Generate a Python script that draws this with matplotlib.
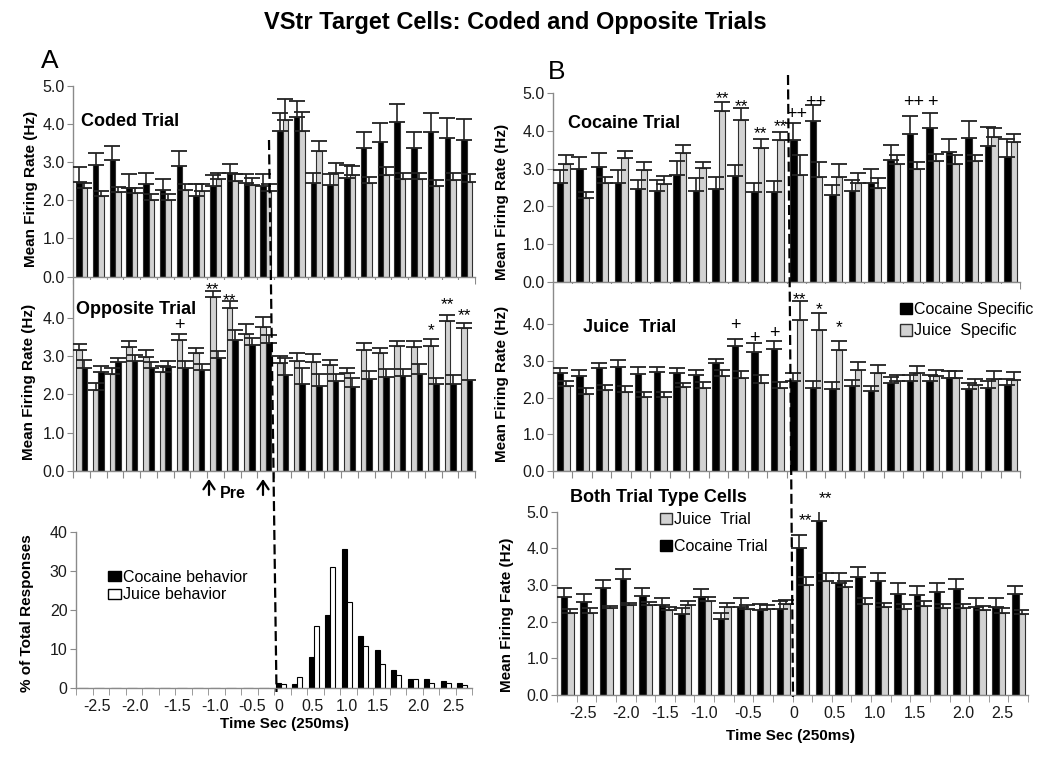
import matplotlib
matplotlib.use('Agg')
import matplotlib.pyplot as plt
from matplotlib.lines import Line2D
from matplotlib.patches import Patch, FancyArrowPatch
import numpy as np

plt.rcParams['font.family'] = ['Liberation Sans', 'DejaVu Sans']

W, H = 1050, 762

# 250 ms bins from -3 s to +3 s (24 bins)
edges = np.arange(-3.0, 3.01, 0.25)
starts = edges[:-1]

# ---- A, Coded Trial ----
coded_coc = [2.49, 2.92, 3.05, 2.31, 2.42, 2.27, 2.91, 2.11, 2.38, 2.71, 2.46, 2.38,
             3.82, 4.17, 2.46, 2.39, 2.59, 3.36, 3.53, 4.06, 3.36, 3.79, 3.62, 3.58]
coded_coc_sem = [0.37, 0.33, 0.37, 0.37, 0.30, 0.29, 0.38, 0.31, 0.28, 0.24, 0.22, 0.30,
                 0.46, 0.44, 0.26, 0.30, 0.33, 0.42, 0.50, 0.45, 0.42, 0.49, 0.54, 0.55]
coded_jui = [2.31, 2.11, 2.21, 2.18, 2.02, 2.02, 2.27, 2.24, 2.56, 2.50, 2.40, 2.24,
             4.10, 3.81, 3.29, 2.72, 2.66, 2.46, 2.66, 2.57, 2.57, 2.38, 2.53, 2.49]
coded_jui_sem = [0.15, 0.13, 0.13, 0.13, 0.14, 0.14, 0.15, 0.18, 0.16, 0.20, 0.19, 0.18,
                 0.55, 0.51, 0.27, 0.25, 0.25, 0.16, 0.20, 0.15, 0.15, 0.15, 0.19, 0.21]

# ---- A, Opposite Trial (juice bars drawn first) ----
opp_jui = [3.17, 2.12, 2.55, 3.25, 2.99, 2.58, 3.43, 3.08, 4.55, 4.26, 3.60, 3.78,
           2.82, 2.88, 2.84, 2.77, 2.57, 3.17, 3.08, 3.28, 3.24, 3.28, 3.93, 3.75]
opp_jui_sem = [0.15, 0.17, 0.14, 0.15, 0.17, 0.17, 0.15, 0.13, 0.17, 0.20, 0.26, 0.26,
               0.19, 0.22, 0.22, 0.13, 0.12, 0.17, 0.15, 0.12, 0.16, 0.17, 0.16, 0.13]
opp_coc = [2.69, 2.60, 2.86, 2.89, 2.69, 2.71, 2.69, 2.64, 2.95, 3.43, 3.30, 3.36,
           2.50, 2.27, 2.22, 2.35, 2.20, 2.41, 2.45, 2.48, 2.55, 2.27, 2.27, 2.37]
opp_coc_sem = [0.21, 0.16, 0.11, 0.14, 0.17, 0.16, 0.19, 0.16, 0.20, 0.26, 0.17, 0.20,
               0.45, 0.42, 0.32, 0.19, 0.23, 0.21, 0.21, 0.18, 0.25, 0.15, 0.24, np.nan]

# ---- A, % of total responses ----
hist_coc = [0] * 12 + [1.45, 1.1, 7.9, 18.7, 35.5, 13.4, 9.8, 4.7, 2.3, 2.3, 1.9, 1.3]
hist_jui = [0] * 12 + [1.1, 2.8, 16.0, 30.9, 22.1, 10.8, 6.1, 3.4, 2.3, 1.3, 1.3, 0.8]

# ---- B, Cocaine Trial ----
bc_coc = [2.61, 2.99, 3.05, 2.61, 2.45, 2.41, 2.83, 2.41, 2.45, 2.80, 2.37, 2.37,
          3.76, 4.26, 2.30, 2.41, 2.61, 3.24, 3.93, 4.09, 3.43, 3.82, 3.61, 3.32]
bc_coc_sem = [0.35, 0.31, 0.37, 0.35, 0.26, 0.30, 0.37, 0.33, 0.32, 0.29, 0.24, 0.30,
              0.46, 0.43, 0.26, 0.30, 0.37, 0.40, 0.47, 0.38, 0.35, 0.44, 0.50, 0.48]
bc_jui = [3.12, 2.21, 2.61, 3.27, 2.96, 2.59, 3.42, 3.01, 4.54, 4.29, 3.54, 3.76,
          2.83, 2.77, 2.79, 2.63, 2.48, 3.12, 2.98, 3.20, 3.12, 3.20, 3.85, 3.71]
bc_jui_sem = [0.24, 0.18, 0.16, 0.20, 0.22, 0.21, 0.21, 0.17, 0.22, 0.31, 0.24, 0.22,
              0.53, 0.41, 0.33, 0.26, 0.26, 0.24, 0.20, 0.19, 0.24, 0.16, 0.23, 0.22]

# ---- B, Juice Trial ----
bj_coc = [2.67, 2.58, 2.82, 2.85, 2.64, 2.70, 2.67, 2.61, 2.95, 3.41, 3.26, 3.32,
          2.47, 2.27, 2.23, 2.32, 2.18, 2.41, 2.45, 2.47, 2.53, 2.23, 2.26, 2.36]
bj_coc_sem = [0.15, 0.18, 0.14, 0.17, 0.20, 0.14, 0.14, 0.15, 0.11, 0.20, 0.23, 0.24,
              0.20, 0.20, 0.20, 0.17, 0.14, 0.15, 0.16, 0.16, 0.20, 0.17, 0.19, 0.16]
bj_jui = [2.31, 2.11, 2.20, 2.17, 2.02, 2.02, 2.29, 2.26, 2.58, 2.55, 2.40, 2.26,
          4.13, 3.84, 3.29, 2.75, 2.68, 2.47, 2.67, 2.59, 2.55, 2.36, 2.52, 2.49]
bj_jui_sem = [0.14, 0.15, 0.16, 0.15, 0.13, 0.13, 0.11, 0.17, 0.18, 0.18, 0.21, 0.17,
              0.52, 0.48, 0.26, 0.22, 0.22, 0.16, 0.19, 0.17, 0.18, 0.16, 0.21, 0.21]

# ---- B, Both Trial Type Cells ----
bb_coc = [2.66, 2.55, 2.91, 3.16, 2.70, 2.45, 2.21, 2.68, 2.07, 2.41, 2.32, 2.35,
          4.02, 4.75, 3.06, 3.21, 3.12, 2.75, 2.74, 2.82, 2.90, 2.41, 2.41, 2.75]
bb_coc_sem = [0.25, 0.20, 0.24, 0.28, 0.23, 0.20, 0.17, 0.21, 0.18, 0.23, 0.16, 0.21,
              0.34, 0.40, 0.26, 0.29, 0.22, 0.31, 0.23, 0.24, 0.26, 0.23, 0.23, 0.22]
bb_jui = [2.25, 2.25, 2.36, 2.45, 2.45, 2.32, 2.45, 2.57, 2.41, 2.34, 2.34, 2.47,
          3.00, 3.12, 2.94, 2.48, 2.39, 2.35, 2.44, 2.36, 2.36, 2.32, 2.25, 2.21]
bb_jui_sem = [0.09, 0.11, 0.07, 0.07, 0.09, 0.09, 0.11, 0.09, 0.09, 0.11, 0.11, 0.12,
              0.23, 0.20, 0.17, 0.16, 0.13, 0.13, 0.12, 0.12, 0.12, 0.12, 0.11, 0.11]

tick_text = ['-2.5', '-2.0', '-1.5', '-1.0', '-0.5', '0', '0.5', '1.0', '1.5', '2.0', '2.5']

BLACK = '#000000'
GRAY = '#d2d2d2'
AXC = '#8a8a8a'
TICKFS = 11.5


def rect(l, t, r, b):
    return [l / W, 1 - b / H, (r - l) / W, (b - t) / H]


def fp(x, y):
    return x / W, 1 - y / H


def style(ax, ymax, yticks, fmt):
    for s in ['top', 'right']:
        ax.spines[s].set_visible(False)
    for s in ['left', 'bottom']:
        ax.spines[s].set_color(AXC)
        ax.spines[s].set_linewidth(1.0)
    ax.set_xlim(-3, 3)
    ax.set_ylim(0, ymax)
    ax.set_xticks(edges)
    ax.set_xticklabels([])
    ax.tick_params(axis='x', direction='out', length=5, color=AXC)
    ax.set_yticks(yticks)
    ax.set_yticklabels([fmt.format(v) for v in yticks])
    ax.tick_params(axis='y', direction='out', length=4, color=AXC,
                   labelsize=TICKFS, pad=2, labelcolor='#1a1a1a')


def pairs(ax, a, a_sem, b, b_sem, ca, cb):
    bw = 0.25
    w = 0.33 * bw
    xa = starts + 0.355 * bw
    xb = starts + 0.685 * bw
    ax.bar(xa, a, w, color=ca, edgecolor='#303030', linewidth=0.8, zorder=2)
    ax.bar(xb, b, w, color=cb, edgecolor='#303030', linewidth=0.8, zorder=2)
    z = np.zeros(len(a))
    for x, v, s in [(xa, a, a_sem), (xb, b, b_sem)]:
        ax.errorbar(x, v, yerr=[z, s], fmt='none', ecolor='#222222',
                    elinewidth=1.2, capsize=5.5, capthick=1.3, zorder=3)
    return xa, xb


def bottom_ticks(ax, pos):
    ax.set_xticks(edges, minor=True)
    ax.set_xticks(pos)
    ax.set_xticklabels(tick_text)
    ax.tick_params(axis='x', which='major', length=0, pad=8,
                   labelsize=TICKFS, labelcolor='#1a1a1a')
    ax.tick_params(axis='x', which='minor', direction='out', length=5, color=AXC)


def marks(ax, xs, items, size):
    for i, txt, y in items:
        ax.text(xs[i - 1], y, txt, ha='center', va='center', fontsize=size,
                clip_on=False)


fig = plt.figure(figsize=(W / 100, H / 100), dpi=100)

yt = [0, 1, 2, 3, 4, 5]
yt4 = [0, 1, 2, 3, 4]

# ---------- panel A ----------
ax1 = fig.add_axes(rect(73, 85.7, 475, 276.7))
style(ax1, 5, yt, '{:.1f}')
pairs(ax1, coded_coc, coded_coc_sem, coded_jui, coded_jui_sem, BLACK, GRAY)

ax2 = fig.add_axes(rect(73, 280.2, 475, 470.7))
style(ax2, 5, yt4, '{:.1f}')
xg, xk = pairs(ax2, opp_jui, opp_jui_sem, opp_coc, opp_coc_sem, GRAY, BLACK)
marks(ax2, xg, [(9, '**', 4.74), (10, '**', 4.47),
                (22, '*', 3.67), (23, '**', 4.37), (24, '**', 4.07)], 12.5)
marks(ax2, xg, [(7, '+', 3.8)], 13)

ax3 = fig.add_axes(rect(76, 531.7, 472, 688.3))
style(ax3, 40, [0, 10, 20, 30, 40], '{:d}')
hb = 0.25
ax3.bar(starts + 0.25 * hb, hist_coc, 0.3 * hb, color=BLACK, edgecolor=BLACK,
        linewidth=0.8)
ax3.bar(starts + 0.56 * hb, hist_jui, 0.28 * hb, color='white', edgecolor=BLACK,
        linewidth=0.8)
bottom_ticks(ax3, [-2.68, -2.1, -1.47, -0.89, -0.33, 0.08, 0.58, 1.11, 1.58, 2.18, 2.71])
ax3.legend([Patch(facecolor=BLACK, edgecolor=BLACK),
            Patch(facecolor='white', edgecolor=BLACK)],
           ['Cocaine behavior', 'Juice behavior'],
           loc='upper left', bbox_to_anchor=fp(108, 570),
           bbox_transform=fig.transFigure, frameon=False, fontsize=11.5,
           handlelength=0.8, handleheight=0.6, handletextpad=0.15,
           labelspacing=0.15, borderpad=0, borderaxespad=0)

# ---------- panel B ----------
ax4 = fig.add_axes(rect(553, 93.3, 1020, 281.7))
style(ax4, 5, yt, '{:.1f}')
xk4, xg4 = pairs(ax4, bc_coc, bc_coc_sem, bc_jui, bc_jui_sem, BLACK, GRAY)
marks(ax4, xg4, [(9, '**', 4.87), (10, '**', 4.64), (11, '**', 3.92), (12, '**', 4.12)], 12.5)
xp4 = (xk4 + xg4) / 2
marks(ax4, xp4, [(13, '++', 4.43), (14, '++', 4.76), (19, '++', 4.76), (20, '+', 4.76)], 13)

ax5 = fig.add_axes(rect(553, 284, 1020, 471.2))
style(ax5, 5.1, yt4, '{:.1f}')
xk5, xg5 = pairs(ax5, bj_coc, bj_coc_sem, bj_jui, bj_jui_sem, BLACK, GRAY)
marks(ax5, xk5, [(10, '+', 3.96), (11, '+', 3.62), (12, '+', 3.76)], 13)
marks(ax5, xg5, [(13, '**', 4.67), (14, '*', 4.4), (15, '*', 3.9)], 12.5)
ax5.legend([Patch(facecolor=BLACK, edgecolor=BLACK),
            Patch(facecolor=GRAY, edgecolor='#303030')],
           ['Cocaine Specific', 'Juice  Specific'],
           loc='upper left', bbox_to_anchor=fp(900, 302),
           bbox_transform=fig.transFigure, frameon=False, fontsize=11.5,
           handlelength=0.75, handleheight=0.75, handletextpad=0.15,
           labelspacing=0.4, borderpad=0, borderaxespad=0)

ax6 = fig.add_axes(rect(557, 511.7, 1028, 695))
style(ax6, 5, yt, '{:.1f}')
xk6, xg6 = pairs(ax6, bb_coc, bb_coc_sem, bb_jui, bb_jui_sem, BLACK, GRAY)
marks(ax6, xg6, [(13, '**', 4.75), (14, '**', 5.35)], 12.5)
bottom_ticks(ax6, [-2.67, -2.12, -1.62, -1.13, -0.57, 0.02, 0.54, 1.05, 1.56, 2.17, 2.67])
ax6.legend([Patch(facecolor=GRAY, edgecolor='#303030'),
            Patch(facecolor=BLACK, edgecolor=BLACK)],
           ['Juice  Trial', 'Cocaine Trial'],
           loc='upper left', bbox_to_anchor=fp(660, 512),
           bbox_transform=fig.transFigure, frameon=False, fontsize=11.5,
           handlelength=0.75, handleheight=0.75, handletextpad=0.15,
           labelspacing=0.75, borderpad=0, borderaxespad=0)

# ---------- text ----------
fig.text(*fp(515, 22), 'VStr Target Cells: Coded and Opposite Trials',
         ha='center', va='center', fontsize=17, weight='bold')
fig.text(*fp(50, 61), 'A', ha='center', va='center', fontsize=19)
fig.text(*fp(557, 72), 'B', ha='center', va='center', fontsize=19)

for txt, x, y in [('Coded Trial', 81, 122), ('Opposite Trial', 76, 310),
                  ('Cocaine Trial', 568, 123), ('Juice  Trial', 583, 327),
                  ('Both Trial Type Cells', 570, 498)]:
    fig.text(*fp(x, y), txt, ha='left', va='center', fontsize=13, weight='bold')

for txt, x, y in [('Mean Firing Rate (Hz)', 31, 189), ('Mean Firing Rate (Hz)', 29, 382),
                  ('% of Total Responses', 27, 613), ('Mean Firing Rate (Hz)', 502, 202),
                  ('Mean Firing Rate (Hz)', 502, 384), ('Mean Firing Fate (Hz)', 507, 615)]:
    fig.text(*fp(x, y), txt, ha='center', va='center', rotation=90,
             fontsize=11, weight='bold')

fig.text(*fp(285, 724), 'Time Sec (250ms)', ha='center', va='center',
         fontsize=11, weight='bold')
fig.text(*fp(791, 736), 'Time Sec (250ms)', ha='center', va='center',
         fontsize=11, weight='bold')

# "Pre" window arrows under the opposite-trial panel
for x in [209, 263]:
    fig.add_artist(FancyArrowPatch(
        fp(x, 495), fp(x, 479), transform=fig.transFigure,
        arrowstyle='->,head_length=6,head_width=4', lw=1.6, color='black',
        mutation_scale=1, shrinkA=0, shrinkB=0))
fig.text(*fp(233, 494), 'Pre', ha='center', va='center', fontsize=11.5, weight='bold')

# event onset lines
fig.add_artist(Line2D([269 / W, 276.5 / W], [1 - 140 / H, 1 - 692 / H],
                      transform=fig.transFigure, color='black', lw=1.6,
                      dashes=(4.5, 2)))
fig.add_artist(Line2D([788 / W, 793 / W], [1 - 75 / H, 1 - 697 / H],
                      transform=fig.transFigure, color='black', lw=1.6,
                      dashes=(4.5, 2)))

fig.savefig('out.png', dpi=100)
